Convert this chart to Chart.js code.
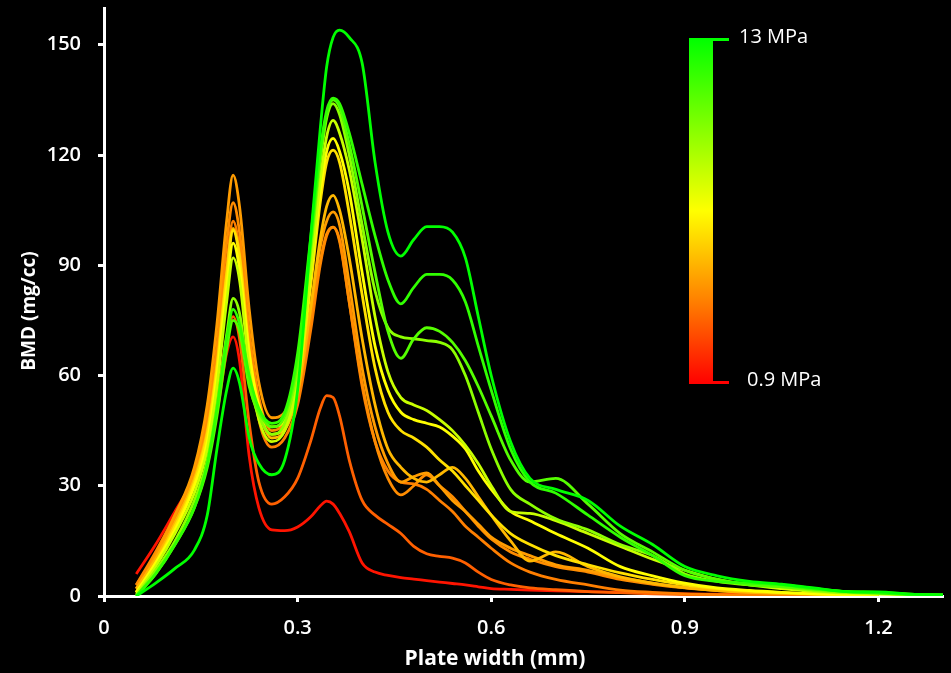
<!DOCTYPE html>
<html>
<head>
<meta charset="utf-8">
<title>BMD vs plate width</title>
<script src="https://cdn.jsdelivr.net/npm/chart.js@4.4.1/dist/chart.umd.min.js"></script>
<style>
  html, body { margin: 0; padding: 0; background: #000; }
  #wrap { width: 951px; height: 673px; }
</style>
</head>
<body>
<div id="wrap"><canvas id="bmdChart" width="951" height="673"></canvas></div>
<script>
// plate width (mm), shared by every profile
const plateWidth = [0.05, 0.08, 0.11, 0.14, 0.16, 0.175, 0.19, 0.2, 0.21, 0.225,
  0.24, 0.26, 0.28, 0.3, 0.32, 0.335, 0.345, 0.355, 0.365, 0.38,
  0.4, 0.42, 0.44, 0.46, 0.48, 0.5, 0.52, 0.54, 0.56, 0.58,
  0.6, 0.63, 0.66, 0.7, 0.75, 0.8, 0.85, 0.9, 0.95, 1.0,
  1.05, 1.1, 1.15, 1.2, 1.25, 1.3];

// BMD (mg/cc) profiles, lowest pressure first
const bmdRed = [6, 14, 23, 32, 40, 50, 66, 70.5, 64, 38, 24, 18, 17.8, 18.8, 21.5, 24.5, 25.8, 25, 22.5, 17.5, 9, 6.5, 5.6, 5, 4.6, 4.2, 3.8, 3.4, 3, 2.5, 2, 1.8, 1.6, 1.4, 1.2, 1, 0.8, 0.6, 0.5, 0.4, 0.3, 0.3, 0.2, 0.2, null, null];
const bmdOrangeRed = [3, 11, 20, 30, 40, 54, 70, 76, 70, 47, 31, 25, 27, 32, 42, 51, 54.5, 54, 49, 37, 26, 22, 19.5, 17, 13.5, 11.5, 10.8, 10.3, 9, 6.5, 4.5, 3, 2.2, 1.7, 1.2, 0.9, 0.6, 0.4, 0.3, 0.2, 0.1, 0.1, 0, 0, null, null];
const bmdOrangeA = [2, 11, 21, 33, 46, 64, 90, 102, 94, 66, 48, 40.5, 43, 52, 72, 90, 98, 100.4, 97, 80, 57, 42, 34, 31, 30.5, 29, 26, 23, 19, 16, 13, 9, 6.5, 4.5, 3, 1.6, 1, 0.6, 0.4, 0.3, 0.2, 0.1, 0.1, 0, null, null];
const bmdOrangeB = [3, 12, 22, 34, 49, 68, 96, 107, 99, 72, 54, 45, 47, 55, 75, 91, 98.5, 100.4, 96.5, 80, 58, 42, 32, 27.5, 30, 33, 30, 27, 23, 19, 15.5, 12, 10, 8, 6.5, 4.5, 3.2, 2.2, 1.5, 1, 0.7, 0.5, 0.3, 0.2, null, null];
const bmdOrangeC = [1, 11, 22, 35, 52, 74, 102, 114.5, 106, 78, 58, 48.5, 50, 58, 78, 95, 102, 104.5, 101, 85, 62, 46, 36, 31, 32.5, 33.5, 30, 26, 23, 19.5, 16, 13, 11, 8.5, 7, 5, 3.5, 2.3, 1.6, 1.1, 0.8, 0.5, 0.3, 0.2, null, null];
const bmdAmber = [2, 10, 20, 32, 45, 63, 88, 100, 93, 67, 51, 43, 45, 55, 78, 97, 106, 109, 105, 92, 70, 52, 40, 35, 32, 31, 33, 35, 32, 27, 22, 15, 9.5, 12, 8, 5.2, 3.5, 2.3, 1.5, 1, 0.7, 0.5, 0.3, 0.2, null, null];
const bmdYellowA = [1, 9, 19, 31, 44, 62, 87, 99.5, 92, 66, 51, 44, 46, 57, 84, 107, 118, 121.3, 118, 104, 82, 62, 50, 45, 43, 40.5, 37, 34, 30, 26, 22, 17, 14, 11, 8.5, 6.3, 4.5, 3, 2, 1.3, 0.9, 0.6, 0.4, 0.3, null, null];
const bmdYellowB = [1, 9, 18, 30, 42, 60, 84, 96, 89, 66, 52, 46, 48, 59, 87, 110, 121, 124.5, 121, 110, 88, 68, 56, 50, 48, 47, 46, 43.5, 40, 34, 29, 23, 20.5, 17, 13, 8, 5.5, 3.5, 2.2, 1.5, 1, 0.6, 0.4, 0.2, null, null];
const bmdLime = [0.5, 8, 17, 28, 40, 57, 80, 92, 86, 62, 48, 42, 45, 58, 88, 113, 125, 129.4, 126, 116, 97, 76, 61, 54, 52, 50.5, 48, 45, 41, 36, 30, 23, 22.5, 20.5, 17, 13.5, 10, 7, 4.5, 3, 2, 1.2, 0.8, 0.5, 0.3, null];
const bmdGreenA = [0, 7, 15, 26, 37, 52, 71, 81, 77, 58, 49, 44, 47, 62, 93, 118, 130, 134, 131, 120, 101, 83, 73, 70.5, 70, 69.5, 69, 67, 60, 50, 40, 29, 25, 21, 18, 14, 11, 6, 4, 3, 2.5, 1.5, 1, 0.8, 0.4, 0.2];
const bmdGreenB = [0, 6, 14, 24, 35, 49, 67, 75, 72, 57, 50, 46, 49, 64, 95, 120, 131, 135, 133, 123, 106, 88, 72, 64.7, 70, 73, 72, 69, 64, 57, 49, 37, 31, 32, 25, 17, 12, 7, 4.5, 3, 2.5, 1.8, 1.2, 1, 0.5, 0.3];
const bmdGreenC = [0, 6, 14, 24, 36, 51, 70, 78, 74, 60, 51, 47, 50, 66, 97, 121, 132, 135.5, 134, 126, 112, 98, 86, 79.5, 84, 87.5, 87.5, 86, 80, 68, 56, 40, 31, 28, 22, 16, 11, 5.5, 4, 3.5, 3, 2, 1.2, 0.8, 0.4, 0.2];
const bmdGreenD = [0, 3.5, 7.5, 12.5, 22, 40, 56, 62, 58, 43, 36, 33, 37, 56, 97, 127, 144, 152, 154, 152, 145, 118, 99, 92.5, 97, 100.5, 100.5, 99, 92, 76, 60, 42, 32, 29, 26, 19, 14, 8, 5.5, 4, 3.2, 2.2, 1.2, 1.1, 0.5, 0.3];

const profiles = [bmdRed, bmdOrangeRed, bmdOrangeA, bmdOrangeB, bmdOrangeC, bmdAmber,
  bmdYellowA, bmdYellowB, bmdLime, bmdGreenA, bmdGreenB, bmdGreenC, bmdGreenD];
const profileColors = ['#ff1400', '#ff6000', '#ff7f00', '#ff8c00', '#ff9c00', '#ffb800',
  '#ffe000', '#ffff00', '#c8ff00', '#8cff00', '#55ff00', '#30ff00', '#00ff00'];

const xTicks = [0, 0.3, 0.6, 0.9, 1.2];
const yTicks = [0, 30, 60, 90, 120, 150];
const pressureLabels = ['13 MPa', '0.9 MPa'];

const FONT = "'Open Sans', 'DejaVu Sans', sans-serif";

// black backdrop, axis titles and the pressure colour bar
const decor = {
  id: 'decor',
  beforeDraw(chart) {
    const ctx = chart.ctx;
    ctx.save();
    ctx.fillStyle = '#000';
    ctx.fillRect(0, 0, chart.width, chart.height);
    ctx.restore();
  },
  afterDraw(chart) {
    const ctx = chart.ctx;
    ctx.save();
    ctx.fillStyle = '#fff';
    ctx.font = `bold 21px ${FONT}`;
    ctx.textAlign = 'center';
    ctx.textBaseline = 'middle';
    ctx.fillText('Plate width (mm)', 495, 659);

    ctx.font = `bold 19px ${FONT}`;
    ctx.translate(30, 311);
    ctx.rotate(-Math.PI / 2);
    ctx.fillText('BMD (mg/cc)', 0, 0);
    ctx.restore();

    // colour bar
    const top = 38, bottom = 384, left = 689, right = 713;
    ctx.save();
    const grad = ctx.createLinearGradient(0, top, 0, bottom);
    grad.addColorStop(0, '#00ff00');
    grad.addColorStop(0.5, '#ffff00');
    grad.addColorStop(0.76, '#ff8000');
    grad.addColorStop(1, '#ff0000');
    ctx.fillStyle = grad;
    ctx.fillRect(left, top, right - left, bottom - top);

    ctx.lineWidth = 3;
    ctx.strokeStyle = '#00ff00';
    ctx.beginPath();
    ctx.moveTo(right, 39.5);
    ctx.lineTo(729, 39.5);
    ctx.stroke();
    ctx.strokeStyle = '#ff0000';
    ctx.beginPath();
    ctx.moveTo(right, 382.5);
    ctx.lineTo(729, 382.5);
    ctx.stroke();

    ctx.fillStyle = '#fff';
    ctx.font = `20px ${FONT}`;
    ctx.textAlign = 'left';
    ctx.textBaseline = 'middle';
    ctx.fillText(pressureLabels[0], 739, 37);
    ctx.fillText(pressureLabels[1], 747, 380);
    ctx.restore();
  }
};

const datasets = profiles.map((series, i) => ({
  data: series.map((y, j) => ({ x: plateWidth[j], y: y })),
  borderColor: profileColors[i],
  borderWidth: 2.8,
  pointRadius: 0,
  fill: false,
  cubicInterpolationMode: 'monotone',
  order: profiles.length - i
}));

const axisStyle = {
  border: { display: true, color: '#fff', width: 3 },
  grid: { drawOnChartArea: false, drawTicks: true, tickLength: 6, tickColor: '#fff', tickWidth: 3 }
};

// fixed plot box: left 104, right 943, top 8, bottom 596
const noOverflow = (scale) => {
  scale.paddingTop = 0;
  scale.paddingBottom = 0;
  scale.paddingLeft = 0;
  scale.paddingRight = 0;
};

new Chart(document.getElementById('bmdChart'), {
  type: 'line',
  data: { datasets },
  options: {
    responsive: false,
    animation: false,
    devicePixelRatio: 1,
    layout: { padding: { top: 8, right: 8, left: 0, bottom: 0 } },
    plugins: { legend: { display: false }, tooltip: { enabled: false } },
    scales: {
      x: {
        type: 'linear',
        min: 0,
        max: 1.3,
        ...axisStyle,
        afterBuildTicks: (scale) => { scale.ticks = xTicks.map(v => ({ value: v })); },
        afterFit: (scale) => { scale.height = 77; noOverflow(scale); },
        ticks: {
          color: '#fff',
          padding: 14,
          maxRotation: 0,
          font: { family: FONT, size: 20, weight: '600' },
          callback: (v) => (v === 0 ? '0' : Number(v).toFixed(1))
        }
      },
      y: {
        type: 'linear',
        min: 0,
        max: 160,
        ...axisStyle,
        afterBuildTicks: (scale) => { scale.ticks = yTicks.map(v => ({ value: v })); },
        afterFit: (scale) => { scale.width = 104; noOverflow(scale); },
        ticks: {
          color: '#fff',
          padding: 17,
          font: { family: FONT, size: 20, weight: '600' },
          callback: (v) => String(v)
        }
      }
    }
  },
  plugins: [decor]
});
</script>
</body>
</html>
